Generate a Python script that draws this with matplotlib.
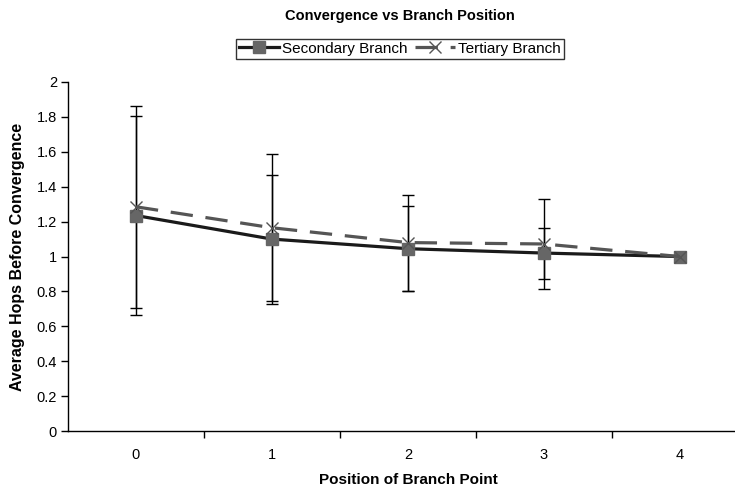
import numpy as np
import matplotlib
matplotlib.use('Agg')
import matplotlib.pyplot as plt

plt.rcParams['font.family'] = ['Liberation Sans', 'DejaVu Sans']

#データ
positions = [0, 1, 2, 3, 4]
secondary = [1.235, 1.10, 1.045, 1.02, 1.0]
secondary_err = [0.57, 0.37, 0.245, 0.146, 0.0]
tertiary = [1.285, 1.165, 1.08, 1.072, 1.0]
tertiary_err = [0.58, 0.42, 0.275, 0.26, 0.0]

fig = plt.figure(figsize=(7.35, 4.91), dpi=100)
ax = fig.add_axes([0.0925, 0.122, 0.925, 0.711])

#誤差棒
ax.errorbar(positions, secondary, yerr=secondary_err, fmt='none', ecolor='black',
            elinewidth=1, capsize=4, capthick=1, zorder=2)
ax.errorbar(positions, tertiary, yerr=tertiary_err, fmt='none', ecolor='black',
            elinewidth=1, capsize=4, capthick=1, zorder=2)

ax.plot(positions, secondary, color='#1a1a1a', lw=2.3, marker='s', ms=8,
        mfc='#666666', mec='#666666', label='Secondary Branch', zorder=3)
ax.plot(positions, tertiary, color='#555555', lw=2.3, ls=(0, (7, 4)), marker='x',
        ms=8, mec='#555555', mew=1, label='Tertiary Branch', zorder=4)

ax.set_xlim(-0.5, 4.5)
ax.set_ylim(0, 2)
ax.set_yticks(np.arange(0, 2.01, 0.2))
ax.set_yticklabels(['0', '0.2', '0.4', '0.6', '0.8', '1', '1.2', '1.4', '1.6', '1.8', '2'])
ax.set_xticks(positions)
ax.set_xticks([0.5, 1.5, 2.5, 3.5], minor=True)
ax.tick_params(axis='x', which='major', length=0, pad=12, labelsize=10.5)
ax.tick_params(axis='x', which='minor', length=5, direction='out', width=1)
ax.tick_params(axis='y', length=5, direction='out', width=1, labelsize=10.5, pad=3)

for s in ['top', 'right']:
    ax.spines[s].set_visible(False)
ax.spines['left'].set_linewidth(1)
ax.spines['bottom'].set_linewidth(1)

ax.set_xlabel('Position of Branch Point', fontsize=11, fontweight='bold', labelpad=8)
ax.set_ylabel('Average Hops Before Convergence', fontsize=11.5, fontweight='bold', labelpad=8)

fig.text(0.544, 0.968, 'Convergence vs Branch Position', ha='center', va='center',
         fontsize=10.5, fontweight='bold')

leg = fig.legend(loc='center', bbox_to_anchor=(0.544, 0.901), ncol=2, fontsize=11,
                 frameon=True, fancybox=False, edgecolor='black', borderpad=0.2,
                 handlelength=2.6, handletextpad=0.2, columnspacing=0.5, borderaxespad=0)
leg.get_frame().set_linewidth(1)

fig.savefig('out.png', dpi=100)
